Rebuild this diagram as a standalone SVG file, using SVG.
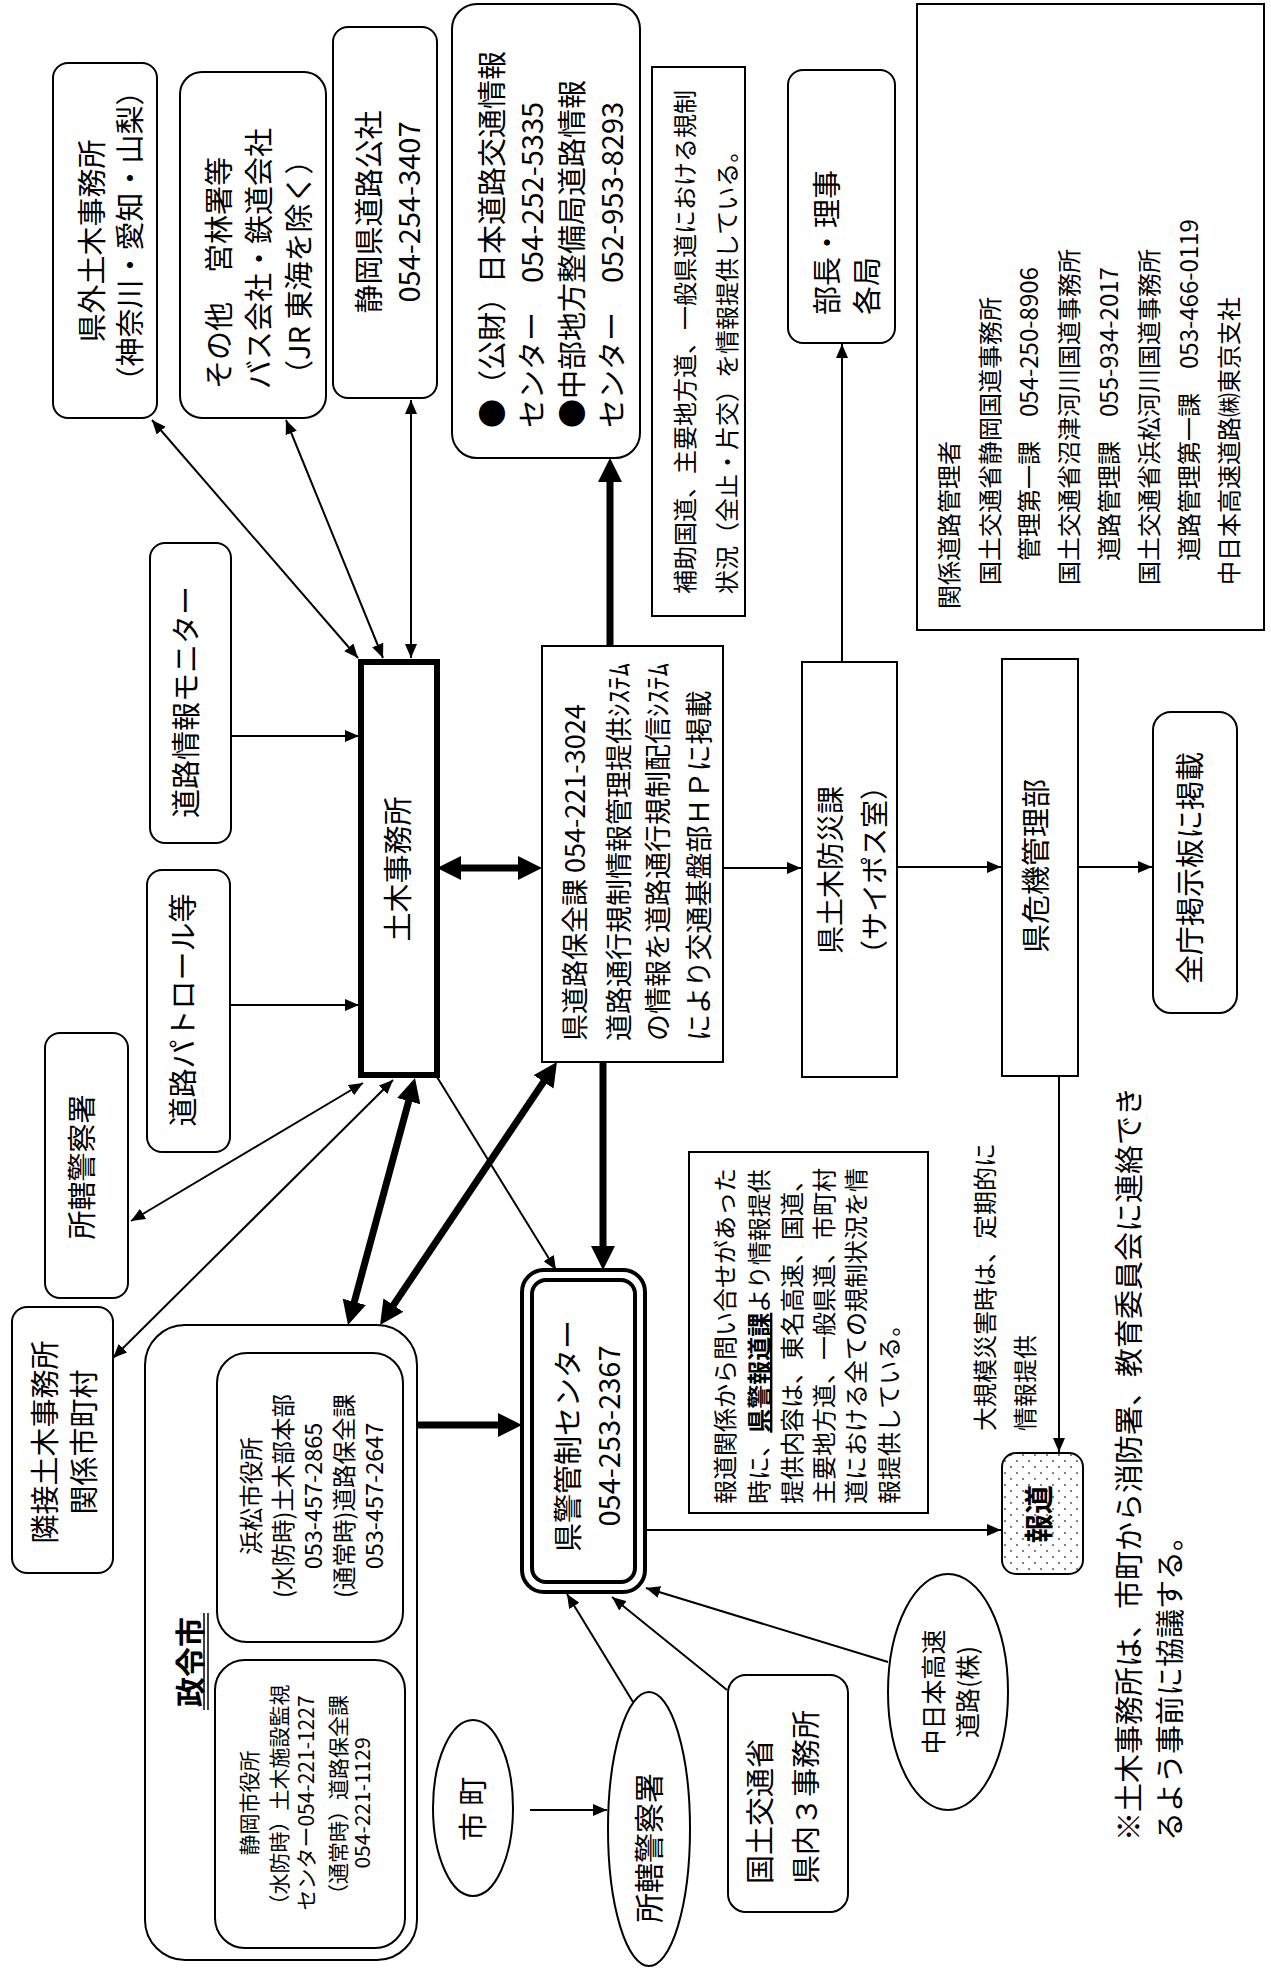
<svg xmlns="http://www.w3.org/2000/svg" width="1271" height="1970" viewBox="0 0 1271 1970">
<defs>
<style>
.bx{fill:#fff;stroke:#000;stroke-width:2}
.bk{fill:#fff;stroke:#000;stroke-width:6}
.db{fill:none;stroke:#000;stroke-width:4}
.ln{fill:none;stroke:#000;stroke-width:2}
.lt{fill:none;stroke:#000;stroke-width:7}
text{font-family:"Noto Sans CJK JP","Noto Sans CJK SC",sans-serif;dominant-baseline:central;fill:#000}
.f30{font-size:30px}
.f29{font-size:29px}
.f28{font-size:28px}
.f27{font-size:27px}
.f25{font-size:25px}
.f24{font-size:24px}
.f23{font-size:23.5px}
.f21{font-size:21px}
.m{text-anchor:middle}
.s{text-anchor:start}
.b{font-weight:bold}
</style>
<marker id="a" viewBox="0 0 14 12" refX="14" refY="6" markerWidth="14" markerHeight="12" markerUnits="userSpaceOnUse" orient="auto-start-reverse"><path d="M0,0L14,6L0,12z"/></marker>
<marker id="A" viewBox="0 0 24 24" refX="16" refY="12" markerWidth="24" markerHeight="24" markerUnits="userSpaceOnUse" orient="auto-start-reverse"><path d="M0,0L24,12L0,24z"/></marker>
<pattern id="dots" width="12" height="12" patternUnits="userSpaceOnUse"><rect width="12" height="12" fill="#fff"/><circle cx="3" cy="3" r="1" fill="#555"/><circle cx="9" cy="9" r="1" fill="#555"/></pattern>
</defs>
<rect width="1271" height="1970" fill="#fff"/>

<g id="connectors">
<line class="ln" x1="358" y1="658" x2="152" y2="420" marker-start="url(#a)" marker-end="url(#a)"/>
<line class="ln" x1="383" y1="658" x2="286" y2="420" marker-start="url(#a)" marker-end="url(#a)"/>
<line class="ln" x1="411" y1="658" x2="411" y2="400" marker-start="url(#a)" marker-end="url(#a)"/>
<line class="ln" x1="231" y1="736" x2="359" y2="736" marker-end="url(#a)"/>
<line class="ln" x1="231" y1="1005" x2="359" y2="1005" marker-end="url(#a)"/>
<line class="ln" x1="363" y1="1083" x2="131" y2="1221" marker-start="url(#a)" marker-end="url(#a)"/>
<line class="ln" x1="393" y1="1080" x2="113" y2="1358" marker-start="url(#a)" marker-end="url(#a)"/>
<line class="ln" x1="437" y1="1077" x2="556" y2="1270" marker-end="url(#a)"/>
<line class="ln" x1="723" y1="868" x2="801" y2="868" marker-end="url(#a)"/>
<line class="ln" x1="842" y1="662" x2="842" y2="344" marker-end="url(#a)"/>
<line class="ln" x1="897" y1="867" x2="1001" y2="867" marker-end="url(#a)"/>
<line class="ln" x1="1078" y1="867" x2="1152" y2="867" marker-end="url(#a)"/>
<line class="ln" x1="1059" y1="1076" x2="1059" y2="1452" marker-end="url(#a)"/>
<line class="ln" x1="645" y1="1530" x2="1001" y2="1530" marker-end="url(#a)"/>
<line class="ln" x1="530" y1="1810" x2="607" y2="1810" marker-end="url(#a)"/>
<line class="ln" x1="633" y1="1702" x2="567" y2="1594" marker-end="url(#a)"/>
<line class="ln" x1="727" y1="1690" x2="612" y2="1597" marker-end="url(#a)"/>
<line class="ln" x1="888" y1="1662" x2="646" y2="1588" marker-end="url(#a)"/>
<line class="lt" x1="445" y1="868" x2="534" y2="868" marker-start="url(#A)" marker-end="url(#A)"/>
<line class="lt" x1="610" y1="646" x2="610" y2="466" marker-end="url(#A)"/>
<line class="lt" x1="603" y1="1062" x2="603" y2="1262" marker-end="url(#A)"/>
<line class="lt" x1="417" y1="1425" x2="514" y2="1425" marker-end="url(#A)"/>
<line class="lt" x1="412.9" y1="1085.7" x2="350.1" y2="1317.3" marker-start="url(#A)" marker-end="url(#A)"/>
<line class="lt" x1="552.5" y1="1068.6" x2="384.5" y2="1318.4" marker-start="url(#A)" marker-end="url(#A)"/>
</g>

<g id="n-kengai">
<rect class="bx" x="53" y="63" width="104" height="355" rx="15"/>
<text class="f29 m" transform="translate(90,241) rotate(-90)">県外土木事務所</text>
<text class="f29 m" transform="translate(128,236) rotate(-90)">（神奈川・愛知・山梨）</text>
</g>

<g id="n-sonota">
<rect class="bx" x="180" y="72" width="146" height="346" rx="22"/>
<text class="f29 s" transform="translate(217,389) rotate(-90)">その他　営林署等</text>
<text class="f29 s" transform="translate(257,389) rotate(-90)">バス会社・鉄道会社</text>
<text class="f29 s" transform="translate(297,389) rotate(-90)">（JR 東海を除く）</text>
</g>

<g id="n-kosha">
<rect class="bx" x="333" y="27" width="104" height="371" rx="15"/>
<text class="f29 m" transform="translate(367,212) rotate(-90)">静岡県道路公社</text>
<text class="f29 m" transform="translate(407,212) rotate(-90)">054-254-3407</text>
</g>

<g id="n-jartic">
<rect class="bx" x="452" y="4" width="188" height="454" rx="25"/>
<text class="f29 s" transform="translate(490,428) rotate(-90)">●（公財）日本道路交通情報</text>
<text class="f29 s" transform="translate(530,428) rotate(-90)">センター　054-252-5335</text>
<text class="f29 s" transform="translate(570,428) rotate(-90)">●中部地方整備局道路情報</text>
<text class="f29 s" transform="translate(610,428) rotate(-90)">センター　052-953-8293</text>
</g>

<g id="n-hojo">
<rect class="bx" x="652" y="67" width="93" height="549"/>
<text class="f24 s" transform="translate(683,594) rotate(-90)">補助国道、主要地方道、一般県道における規制</text>
<text class="f24 s" transform="translate(725,594) rotate(-90)">状況（全止・片交）を情報提供している。</text>
</g>

<g id="n-bucho">
<rect class="bx" x="788" y="70" width="107" height="273" rx="15"/>
<text class="f29 s" transform="translate(825,315) rotate(-90)">部長・理事</text>
<text class="f29 s" transform="translate(865,315) rotate(-90)">各局</text>
</g>

<g id="n-legend">
<rect class="bx" x="917" y="4" width="347" height="626"/>
<text class="f24 s" transform="translate(947,609) rotate(-90)">関係道路管理者</text>
<text class="f24 s" transform="translate(988,585) rotate(-90)">国土交通省静岡国道事務所</text>
<text class="f24 s" transform="translate(1027,561) rotate(-90)">管理第一課　054-250-8906</text>
<text class="f24 s" transform="translate(1067,585) rotate(-90)">国土交通省沼津河川国道事務所</text>
<text class="f24 s" transform="translate(1107,561) rotate(-90)">道路管理課　055-934-2017</text>
<text class="f24 s" transform="translate(1147,585) rotate(-90)">国土交通省浜松河川国道事務所</text>
<text class="f24 s" transform="translate(1187,561) rotate(-90)">道路管理第一課　053-466-0119</text>
<text class="f24 s" transform="translate(1227,585) rotate(-90)">中日本高速道路㈱東京支社</text>
</g>

<g id="n-monitor">
<rect class="bx" x="150" y="543" width="81" height="300" rx="15"/>
<text class="f29 m" transform="translate(184,702) rotate(-90)">道路情報モニター</text>
</g>

<g id="n-patrol">
<rect class="bx" x="147" y="870" width="83" height="282" rx="15"/>
<text class="f29 m" transform="translate(181,1010) rotate(-90)">道路パトロール等</text>
</g>

<g id="n-doboku">
<rect class="bk" x="361" y="662" width="76" height="413"/>
<text class="f29 m" transform="translate(396,869) rotate(-90)">土木事務所</text>
</g>

<g id="n-hozen">
<rect class="bx" x="542" y="646" width="181" height="416"/>
<text class="f27 s" transform="translate(573,1041) rotate(-90)">県道路保全課 054-221-3024</text>
<text class="f27 s" transform="translate(617,1041) rotate(-90)">道路通行規制情報管理提供ｼｽﾃﾑ</text>
<text class="f27 s" transform="translate(656,1041) rotate(-90)">の情報を道路通行規制配信ｼｽﾃﾑ</text>
<text class="f27 s" transform="translate(697,1041) rotate(-90)">により交通基盤部ＨＰに掲載</text>
</g>

<g id="n-bosai">
<rect class="bx" x="802" y="662" width="95" height="415"/>
<text class="f28 m" transform="translate(829,870) rotate(-90)">県土木防災課</text>
<text class="f28 m" transform="translate(873,870) rotate(-90)">（サイポス室）</text>
</g>

<g id="n-kiki">
<rect class="bx" x="1002" y="659" width="76" height="417"/>
<text class="f29 m" transform="translate(1034,866) rotate(-90)">県危機管理部</text>
</g>

<g id="n-zencho">
<rect class="bx" x="1153" y="712" width="84" height="301" rx="18"/>
<text class="f29 m" transform="translate(1188,868) rotate(-90)">全庁掲示板に掲載</text>
</g>

<g id="n-kenkei">
<rect class="db" x="522" y="1270" width="123" height="322" rx="22" style="fill:#fff"/>
<rect class="db" x="532" y="1280" width="103" height="302" rx="14"/>
<text class="f29 m" transform="translate(566,1436) rotate(-90)">県警管制センター</text>
<text class="f29 m" transform="translate(607,1436) rotate(-90)">054-253-2367</text>
</g>

<g id="n-note">
<rect class="bx" x="689" y="1152" width="239" height="361"/>
<text class="f24 s" transform="translate(723,1504) rotate(-90)">報道関係から問い合せがあった</text>
<text class="f24 s" transform="translate(757,1504) rotate(-90)">時に、<tspan class="b" text-decoration="underline">県警報道課</tspan>より情報提供</text>
<text class="f24 s" transform="translate(790,1504) rotate(-90)">提供内容は、東名高速、国道、</text>
<text class="f24 s" transform="translate(822,1504) rotate(-90)">主要地方道、一般県道、市町村</text>
<text class="f24 s" transform="translate(854,1504) rotate(-90)">道における全ての規制状況を情</text>
<text class="f24 s" transform="translate(887,1504) rotate(-90)">報提供している。</text>
</g>

<g id="n-daikibo">
<text class="f24 s" transform="translate(983,1431) rotate(-90)">大規模災害時は、定期的に</text>
<text class="f24 s" transform="translate(1023,1431) rotate(-90)">情報提供</text>
</g>

<g id="n-hodo">
<rect x="1002" y="1453" width="81" height="121" rx="14" fill="url(#dots)" stroke="#000" stroke-width="2"/>
<text class="f29 m b" transform="translate(1037,1514) rotate(-90)">報道</text>
</g>

<g id="n-seirei">
<rect class="bx" x="145" y="1325" width="272" height="635" rx="40"/>
<text class="f30 m b" transform="translate(188,1662) rotate(-90)">政令市</text>
<line x1="204" y1="1613" x2="204" y2="1710" stroke="#000" stroke-width="1.5"/>
<line x1="208" y1="1613" x2="208" y2="1710" stroke="#000" stroke-width="1.5"/>
<g id="n-hamamatsu">
<rect class="bx" x="217" y="1353" width="186" height="289" rx="30"/>
<text class="f23 m" transform="translate(250,1496) rotate(-90)">浜松市役所</text>
<text class="f23 m" transform="translate(282,1496) rotate(-90)">(水防時)土木部本部</text>
<text class="f23 m" transform="translate(312,1496) rotate(-90)">053-457-2865</text>
<text class="f23 m" transform="translate(343,1496) rotate(-90)">(通常時)道路保全課</text>
<text class="f23 m" transform="translate(373,1496) rotate(-90)">053-457-2647</text>
</g>
<g id="n-shizuoka">
<rect class="bx" x="215" y="1660" width="190" height="288" rx="30"/>
<text class="f21 m" transform="translate(248,1803) rotate(-90)">静岡市役所</text>
<text class="f21 m" transform="translate(278,1800) rotate(-90)">（水防時）土木施設監視</text>
<text class="f21 m" transform="translate(305,1803) rotate(-90)">センター054-221-1227</text>
<text class="f21 m" transform="translate(337,1800) rotate(-90)">（通常時）道路保全課</text>
<text class="f21 m" transform="translate(361,1803) rotate(-90)">054-221-1129</text>
</g>
</g>

<g id="n-rinsetsu">
<rect class="bx" x="12" y="1307" width="101" height="266" rx="15"/>
<text class="f29 m" transform="translate(43,1442) rotate(-90)">隣接土木事務所</text>
<text class="f29 m" transform="translate(82,1442) rotate(-90)">関係市町村</text>
</g>

<g id="n-shokatsu1">
<rect class="bx" x="45" y="1033" width="83" height="265" rx="15"/>
<text class="f29 m" transform="translate(80,1167) rotate(-90)">所轄警察署</text>
</g>

<g id="n-shicho">
<ellipse class="bx" cx="473" cy="1808" rx="40" ry="88"/>
<text class="f29 m" transform="translate(471,1809) rotate(-90)">市 町</text>
</g>

<g id="n-shokatsu2">
<ellipse class="bx" cx="649" cy="1829" rx="41" ry="137"/>
<text class="f30 m" transform="translate(647,1848) rotate(-90)">所轄警察署</text>
</g>

<g id="n-kokudo">
<rect class="bx" x="728" y="1675" width="120" height="237" rx="18"/>
<text class="f29 s" transform="translate(758,1884) rotate(-90)">国土交通省</text>
<text class="f29 s" transform="translate(804,1884) rotate(-90)">県内３事務所</text>
</g>

<g id="n-nexco">
<ellipse class="bx" cx="948" cy="1692" rx="60" ry="118"/>
<text class="f25 m" transform="translate(932,1692) rotate(-90)">中日本高速</text>
<text class="f25 m" transform="translate(966,1692) rotate(-90)">道路(株)</text>
</g>

<g id="n-footnote">
<text class="f29 s" transform="translate(1127,1841) rotate(-90)">※土木事務所は、市町から消防署、教育委員会に連絡でき</text>
<text class="f29 s" transform="translate(1168,1841) rotate(-90)">るよう事前に協議する。</text>
</g>
</svg>
